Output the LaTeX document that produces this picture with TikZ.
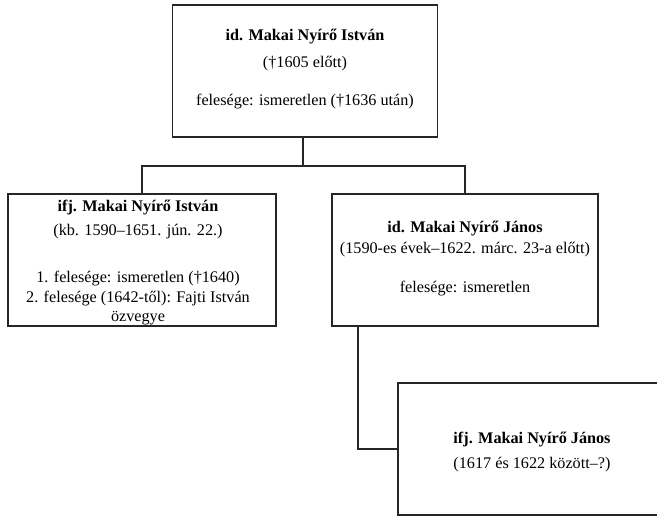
\documentclass[tikz,border=0pt]{standalone}
\usepackage{fontspec}
\setmainfont{Liberation Serif}
\usetikzlibrary{positioning}

\begin{document}
\begin{tikzpicture}[x=1pt,y=-1pt,
  person/.style={draw=black!85,line width=1.6pt,minimum height=132pt,inner sep=0pt},
  info/.style={align=center,font=\fontsize{16.2}{21}\selectfont,inner sep=0pt},
  branch/.style={draw=black!85,line width=1.6pt}]
\useasboundingbox (0,0) rectangle (657,518);
% the boxes
\node[person,minimum width=265pt] (idIstvan) at (305,71) {};
\node[person,minimum width=268pt] (ifjIstvan) at (142,260) {};
\node[person,minimum width=266pt] (idJanos) at (465,260) {};
\node[person,minimum width=266pt] (ifjJanos) at (531,449) {};
% the texts
\node[info] (tIdIstvan) at (305,69) {\textbf{id. Makai Nyírő István}\\[6pt]
  (†1605 előtt)\\[17pt]felesége: ismeretlen (†1636 után)};
\node[info] (tIfjIstvan) at (138,263) {\textbf{ifj. Makai Nyírő István}\\[3pt]
  (kb. 1590–1651. jún. 22.)\\[26pt]1. felesége: ismeretlen (†1640)\\[-1pt]
  2. felesége (1642-től): Fajti István\\[-2pt]özvegye};
\node[info] (tIdJanos) at (465,259) {\textbf{id. Makai Nyírő János}\\
  (1590-es évek–1622. márc. 23-a előtt)\\[18pt]felesége: ismeretlen};
\node[info] (tIfjJanos) at (532,452) {\textbf{ifj. Makai Nyírő János}\\[4pt]
  (1617 és 1622 között–?)};
% the lines
\coordinate (split) at (303,166);
\coordinate (jbranch) at (358,0);
\draw[branch] (idIstvan.south -| split) -- (split);
\draw[branch] (ifjIstvan.north) |- (split) -| (idJanos.north);
\draw[branch] (idJanos.south -| jbranch) |- (ifjJanos.west);
\end{tikzpicture}
\end{document}
